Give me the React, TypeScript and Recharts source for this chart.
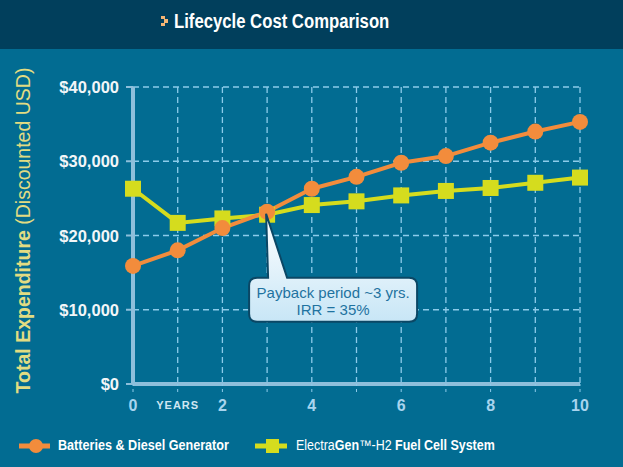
import { LineChart, Line, XAxis, YAxis, CartesianGrid, ReferenceDot } from "recharts";

const years = [0, 1, 2, 3, 4, 5, 6, 7, 8, 9, 10];
const dieselCost = [15900, 18000, 21000, 23200, 26300, 27900, 29800, 30700, 32500, 34000, 35300];
const fuelCellCost = [26300, 21700, 22300, 22800, 24100, 24600, 25400, 26000, 26400, 27100, 27800];
const yTicks = [0, 10000, 20000, 30000, 40000];
const calloutLines = ["Payback period ~3 yrs.", "IRR = 35%"];

const data = years.map((y, i) => ({ year: y, diesel: dieselCost[i], fuel: fuelCellCost[i] }));

const BG = "#026c92";
const HEADER = "#013f5c";
const AXIS = "#8ebfdb";
const GRID = "#8ccbea";
const ORANGE = "#f28c3c";
const GREEN = "#d5dc1e";
const FONT = "'Liberation Sans', Arial, sans-serif";

function XTick(props: any) {
  const { x, y, payload } = props;
  const v = payload.value;
  if (v === 1) {
    return (
      <text x={x} y={y + 15} textAnchor="middle" fill="#cfe6f2" fontSize={11} fontWeight="bold" letterSpacing={1} fontFamily={FONT}>
        YEARS
      </text>
    );
  }
  if (v % 2 !== 0) return null;
  return (
    <text x={x} y={y + 17} textAnchor="middle" fill="#a8d4ee" fontSize={16} fontWeight="bold" fontFamily={FONT}>
      {v}
    </text>
  );
}

function YTick(props: any) {
  const { x, y, payload } = props;
  return (
    <text x={x - 5} y={y + 6} textAnchor="end" fill="#f2f6f8" fontSize={16.5} fontWeight="bold" fontFamily={FONT}>
      {"$" + payload.value.toLocaleString("en-US")}
    </text>
  );
}

function YLabel(props: any) {
  const { viewBox } = props;
  const cx = 23;
  const cy = viewBox.y + viewBox.height / 2 - 5;
  return (
    <text x={cx} y={cy} transform={`rotate(-90 ${cx} ${cy})`} textAnchor="middle" dominantBaseline="central" fill="#e2dc82" fontSize={19.5} fontFamily={FONT}>
      <tspan fontWeight="bold">Total Expenditure</tspan>
      <tspan> (Discounted USD)</tspan>
    </text>
  );
}

function Callout(props: any) {
  const { cx, cy } = props;
  const left = cx - 18;
  const right = cx + 150;
  const top = cy + 66;
  const bottom = cy + 110;
  const r = 8;
  const p1 = cx + 1;
  const p2 = cx + 20;
  const d = [
    `M ${left + r} ${top}`,
    `L ${p1} ${top}`,
    `L ${cx - 1} ${cy + 2}`,
    `L ${p2} ${top}`,
    `L ${right - r} ${top}`,
    `Q ${right} ${top} ${right} ${top + r}`,
    `L ${right} ${bottom - r}`,
    `Q ${right} ${bottom} ${right - r} ${bottom}`,
    `L ${left + r} ${bottom}`,
    `Q ${left} ${bottom} ${left} ${bottom - r}`,
    `L ${left} ${top + r}`,
    `Q ${left} ${top} ${left + r} ${top}`,
    "Z",
  ].join(" ");
  const mid = (left + right) / 2;
  return (
    <g>
      <defs>
        <linearGradient id="calloutGrad" x1="0" y1="0" x2="0" y2="1">
          <stop offset="0%" stopColor="#ffffff" />
          <stop offset="100%" stopColor="#c8e6f6" />
        </linearGradient>
      </defs>
      <path d={d} fill="url(#calloutGrad)" stroke="#0b4765" strokeWidth={2} />
      {calloutLines.map((t, i) => (
        <text key={i} x={mid} y={top + 20 + i * 17} textAnchor="middle" fill="#1f73a0" fontSize={15} fontFamily={FONT}>
          {t}
        </text>
      ))}
    </g>
  );
}

function SquareDot(props: any) {
  const { cx, cy } = props;
  const s = 16;
  return <rect x={cx - s / 2} y={cy - s / 2} width={s} height={s} fill={GREEN} />;
}

const narrow = (scale: number): any => ({ transform: `scaleX(${scale})`, transformOrigin: "left center", whiteSpace: "nowrap" });

export default function App() {
  return (
    <div style={{ position: "relative", width: 623, height: 467, background: BG, overflow: "hidden", fontFamily: FONT }}>
      <style>{"body{margin:0}"}</style>
      <div style={{ position: "absolute", left: 0, top: 0, width: 623, height: 49, background: HEADER }}>
        <svg style={{ position: "absolute", left: 160, top: 15 }} width={10} height={14}>
          <path d="M1 1 H5 V4 H8 V8 H5 V11 H1 V8 H4 V4 H1 Z" fill="#f5b574" />
        </svg>
        <div style={{ position: "absolute", left: 174, top: 10, color: "#ffffff", fontSize: 20, fontWeight: "bold", ...narrow(0.835) }}>
          Lifecycle Cost Comparison
        </div>
      </div>
      <div style={{ position: "absolute", left: 0, top: 0 }}>
        <LineChart width={623} height={467} data={data} margin={{ top: 87, right: 43, left: 0, bottom: 0 }}>
          <CartesianGrid stroke={GRID} strokeDasharray="6 4" strokeWidth={1.3} />
          <XAxis
            dataKey="year"
            type="number"
            domain={[0, 10]}
            ticks={years}
            height={83}
            axisLine={{ stroke: AXIS, strokeWidth: 4 }}
            tickLine={{ stroke: GRID, strokeDasharray: "3 3" }}
            tickSize={8}
            tick={<XTick />}
            interval={0}
          />
          <YAxis
            type="number"
            domain={[0, 40000]}
            ticks={yTicks}
            width={133}
            axisLine={{ stroke: AXIS, strokeWidth: 4 }}
            tickLine={{ stroke: AXIS, strokeWidth: 2 }}
            tickSize={7}
            tick={<YTick />}
            label={<YLabel />}
          />
          <Line
            dataKey="fuel"
            stroke={GREEN}
            strokeWidth={4}
            dot={<SquareDot />}
            activeDot={false}
            isAnimationActive={false}
          />
          <Line
            dataKey="diesel"
            stroke={ORANGE}
            strokeWidth={4}
            dot={{ r: 8, fill: ORANGE, stroke: "none" }}
            activeDot={false}
            isAnimationActive={false}
          />
          <ReferenceDot x={years[3]} y={dieselCost[3]} shape={<Callout />} />
        </LineChart>
      </div>
      <div style={{ position: "absolute", left: 0, top: 435, width: 623, height: 22 }}>
        <svg style={{ position: "absolute", left: 19, top: 1 }} width={34} height={20}>
          <line x1={0} y1={10} x2={31} y2={10} stroke={ORANGE} strokeWidth={5} />
          <circle cx={17} cy={10} r={7} fill={ORANGE} />
        </svg>
        <div style={{ position: "absolute", left: 58, top: 2, color: "#ffffff", fontSize: 14, fontWeight: "bold", ...narrow(0.9) }}>
          Batteries &amp; Diesel Generator
        </div>
        <svg style={{ position: "absolute", left: 255, top: 1 }} width={34} height={20}>
          <line x1={0} y1={10} x2={32} y2={10} stroke={GREEN} strokeWidth={5} />
          <rect x={11} y={3} width={13} height={14} fill={GREEN} />
        </svg>
        <div style={{ position: "absolute", left: 296, top: 2, color: "#ffffff", fontSize: 14, ...narrow(0.89) }}>
          Electra<b>Gen</b>™-H2 <b>Fuel Cell System</b>
        </div>
      </div>
    </div>
  );
}
